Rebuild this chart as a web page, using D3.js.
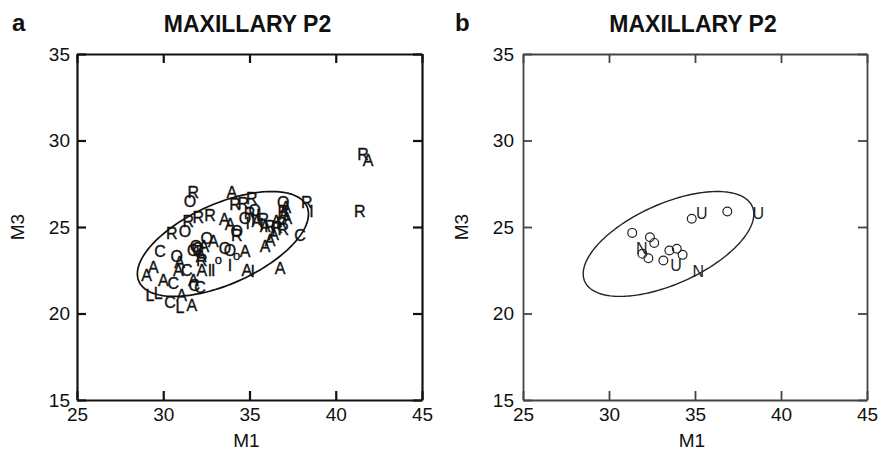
<!DOCTYPE html>
<html>
<head>
<meta charset="utf-8">
<script src="https://cdn.jsdelivr.net/npm/d3@7"></script>
<style>
  html, body { margin: 0; padding: 0; background: #fff; }
  svg { display: block; font-family: "Liberation Sans", Arial, Helvetica, sans-serif; }
</style>
</head>
<body>
<svg id="chart" width="891" height="452"></svg>
<script>
// Axis ticks shared by both panels (M1 on x, M3 on y)
const xTicks = [25, 30, 35, 40, 45];
const yTicks = [15, 20, 25, 30, 35];

// Panel a: specimens coded by group letter
const aCodes = ["R","O","A","R","R","R","R","O","I","A","I","A","R","I",
  "O","A","R","A","R","R","R","I","C","A","A","A","A","I","I","o",
  "O","O","o","A","R","R","R","A","A","O","R","A","O","O","C","O",
  "R","A","R","O","C","O","A","C","A","A","A","C","A","C","A","I",
  "I","L","L","C","A","L","A","R","A","R",
  "I","A","R","O","A","I","R","A","O","A","A","C"];
const aM1 = [31.74,31.55,33.97,34.16,34.64,35.13,35.00,34.74,35.22,35.42,35.71,35.90,36.19,36.38,
  36.96,37.10,36.96,37.16,36.87,36.96,38.32,38.60,37.93,36.19,35.90,36.77,34.84,35.19,33.87,33.19,
  33.58,33.87,34.26,34.74,31.45,32.03,32.71,33.54,33.87,34.26,34.26,32.90,32.52,31.74,32.03,31.90,
  32.23,32.20,30.49,31.26,29.81,30.78,30.87,31.36,29.42,29.04,30.00,30.58,31.74,32.13,32.23,32.71,
  32.90,29.23,29.71,30.39,31.07,30.97,31.65,41.58,41.87,41.40,
  35.50,36.55,35.80,35.30,37.00,34.90,36.60,36.40,32.00,32.35,30.95,31.80];
const aM3 = [27.00,26.47,27.00,26.28,26.37,26.67,25.80,25.50,25.41,25.31,25.12,25.02,25.02,24.83,
  26.40,26.15,25.89,25.50,25.21,24.83,26.41,25.89,24.53,24.24,23.85,22.60,22.50,22.40,22.79,23.12,
  23.76,23.66,23.37,23.56,25.31,25.56,25.64,25.41,25.12,24.73,24.48,24.15,24.34,23.66,23.56,23.90,
  23.08,23.30,24.63,24.73,23.56,23.27,22.50,22.50,22.66,22.20,21.92,21.73,21.92,21.53,22.50,22.50,
  22.50,21.05,21.15,20.66,21.05,20.37,20.47,29.19,28.84,25.87,
  25.65,25.30,25.45,25.95,25.75,25.20,24.95,24.55,23.75,23.85,22.95,21.60];

// Panel b: open circles plus lettered specimens
const bCircleM1 = [34.81, 36.88, 31.35, 32.38, 32.63, 31.94, 32.29, 33.16, 33.51, 33.94, 34.28];
const bCircleM3 = [25.48, 25.90, 24.66, 24.41, 24.08, 23.45, 23.19, 23.06, 23.64, 23.74, 23.39];
const bCodes = ["U", "U", "N", "U", "N"];
const bM1 = [35.39, 38.68, 31.90, 33.90, 35.19];
const bM3 = [25.80, 25.80, 23.74, 22.77, 22.44];

// Reference ellipse (M1/M3 units): centre, semi-axes, tilt in degrees
const ellipseCentre = [33.46, 24.02];
const ellipseAxes = [5.33, 2.32];
const ellipseTilt = 24;

const titles = ["MAXILLARY P2", "MAXILLARY P2"];
const panelTags = ["a", "b"];

const svg = d3.select("#chart");

function ellipsePoints() {
  const th = ellipseTilt * Math.PI / 180;
  return d3.range(0, 181).map(i => {
    const t = i / 180 * 2 * Math.PI;
    const u = ellipseAxes[0] * Math.cos(t), v = ellipseAxes[1] * Math.sin(t);
    return [ellipseCentre[0] + u * Math.cos(th) - v * Math.sin(th),
            ellipseCentre[1] + u * Math.sin(th) + v * Math.cos(th)];
  });
}

function drawFrame(g, x, y, opt) {
  const style = sel => {
    sel.selectAll(".domain").attr("stroke", opt.stroke).attr("stroke-width", opt.sw);
    sel.selectAll(".tick line").attr("stroke", opt.stroke).attr("stroke-width", opt.sw);
    sel.selectAll("text").attr("fill", "#111").attr("font-size", 19)
      .attr("font-family", "Liberation Sans, Arial, sans-serif");
  };
  // bottom axis with labels, ticks pointing inward
  g.append("g").attr("transform", `translate(0,${y.range()[0]})`)
    .call(d3.axisBottom(x).tickValues(xTicks).tickSizeInner(-9).tickSizeOuter(0)
      .tickPadding(8).tickFormat(d3.format("d")))
    .call(style);
  // top axis, ticks only
  g.append("g").attr("transform", `translate(0,${y.range()[1]})`)
    .call(d3.axisTop(x).tickValues(xTicks).tickSizeInner(-9).tickSizeOuter(0).tickFormat(""))
    .call(style);
  // left axis with labels
  g.append("g").attr("transform", `translate(${x.range()[0]},0)`)
    .call(d3.axisLeft(y).tickValues(yTicks).tickSizeInner(-9).tickSizeOuter(0)
      .tickPadding(opt.ypad).tickFormat(d3.format("d")))
    .call(style);
  // right axis, ticks only
  g.append("g").attr("transform", `translate(${x.range()[1]},0)`)
    .call(d3.axisRight(y).tickValues(yTicks).tickSizeInner(-9).tickSizeOuter(0).tickFormat(""))
    .call(style);

  const cx = (x.range()[0] + x.range()[1]) / 2;
  const cy = (y.range()[0] + y.range()[1]) / 2;
  g.append("text").attr("x", cx - 3).attr("y", 447)
    .attr("text-anchor", "middle").attr("font-size", 19).attr("fill", "#111").text("M1");
  g.append("text")
    .attr("transform", `translate(${x.range()[0] - opt.titleOff},${cy}) rotate(-90)`)
    .attr("text-anchor", "middle").attr("font-size", 19).attr("fill", "#111").text("M3");
  g.append("text").attr("x", cx - 2).attr("y", 32)
    .attr("text-anchor", "middle").attr("font-size", 23).attr("font-weight", "bold")
    .attr("fill", "#111").text(opt.title);
  g.append("text").attr("x", opt.tagX).attr("y", 31)
    .attr("font-size", 24).attr("font-weight", "bold").attr("fill", "#111").text(opt.tag);
}

const ellLine = (x, y) => d3.line().x(d => x(d[0])).y(d => y(d[1])).curve(d3.curveLinearClosed);

// ---------- panel a ----------
{
  const x = d3.scaleLinear().domain([25, 45]).range([77, 422]);
  const y = d3.scaleLinear().domain([15, 35]).range([400, 54]);
  const g = svg.append("g");
  g.append("path").datum(ellipsePoints()).attr("d", ellLine(x, y))
    .attr("fill", "none").attr("stroke", "#111").attr("stroke-width", 1.7);
  g.append("g").selectAll("text").data(aCodes).join("text")
    .attr("x", (d, i) => x(aM1[i])).attr("y", (d, i) => y(aM3[i]))
    .attr("text-anchor", "middle").attr("dominant-baseline", "central")
    .attr("font-size", d => d === "o" ? 13 : 16).attr("fill", "#111")
    .attr("stroke", "#111").attr("stroke-width", 0.35)
    .text(d => d);
  drawFrame(g, x, y, { stroke: "#111", sw: 2.2, ypad: 7, titleOff: 53, title: titles[0], tag: panelTags[0], tagX: 12 });
}

// ---------- panel b ----------
{
  const x = d3.scaleLinear().domain([25, 45]).range([523, 867]);
  const y = d3.scaleLinear().domain([15, 35]).range([400, 54]);
  const g = svg.append("g");
  g.append("path").datum(ellipsePoints()).attr("d", ellLine(x, y))
    .attr("fill", "none").attr("stroke", "#222").attr("stroke-width", 1.4);
  g.append("g").selectAll("circle").data(bCircleM1).join("circle")
    .attr("cx", d => x(d)).attr("cy", (d, i) => y(bCircleM3[i])).attr("r", 4.4)
    .attr("fill", "none").attr("stroke", "#222").attr("stroke-width", 1.2);
  g.append("g").selectAll("text").data(bCodes).join("text")
    .attr("x", (d, i) => x(bM1[i])).attr("y", (d, i) => y(bM3[i]))
    .attr("text-anchor", "middle").attr("dominant-baseline", "central")
    .attr("font-size", 16).attr("fill", "#222").text(d => d);
  drawFrame(g, x, y, { stroke: "#444", sw: 1.8, ypad: 9, titleOff: 55, title: titles[1], tag: panelTags[1], tagX: 455 });
}
</script>
</body>
</html>
